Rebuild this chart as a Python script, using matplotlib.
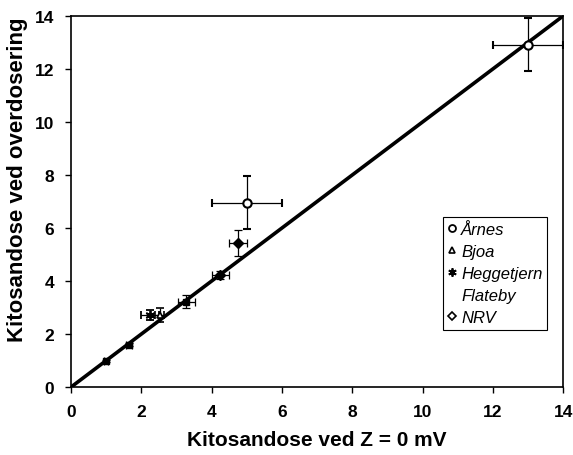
import matplotlib.pyplot as plt
from matplotlib.lines import Line2D

plt.rcParams['font.family'] = ['Liberation Sans', 'DejaVu Sans']

# Årnes
arnes_x = [5.0, 13.0]
arnes_y = [6.95, 12.92]
arnes_xerr = [1.0, 1.0]
arnes_yerr = [1.0, 1.0]

# Bjoa
bjoa_x = [2.52]
bjoa_y = [2.72]
bjoa_xerr = [0.12]
bjoa_yerr = [0.25]

# Heggetjern
hegg_x = [2.25]
hegg_y = [2.72]
hegg_xerr = [0.25]
hegg_yerr = [0.2]

# Flateby
flat_x = [1.0, 1.65, 3.28]
flat_y = [0.98, 1.6, 3.22]
flat_xerr = [0.05, 0.08, 0.24]
flat_yerr = [0.05, 0.05, 0.25]

# NRV
nrv_x = [4.24, 4.75]
nrv_y = [4.23, 5.45]
nrv_xerr = [0.24, 0.26]
nrv_yerr = [0.15, 0.49]

line_x = [0, 14]
line_y = [0, 14]

fig = plt.figure(figsize=(5.73, 4.56), dpi=100)
ax = fig.add_axes([0.124, 0.149, 0.859, 0.814])

ax.plot(line_x, line_y, color='black', lw=2.6, zorder=2)

eb = dict(ecolor='black', elinewidth=0.9, capsize=3, capthick=0.9, ls='none', zorder=3)
ax.errorbar(arnes_x, arnes_y, xerr=arnes_xerr, yerr=arnes_yerr, marker='o', ms=6,
            mfc='white', mec='black', mew=1.5, **eb)
ax.errorbar(bjoa_x, bjoa_y, xerr=bjoa_xerr, yerr=bjoa_yerr, marker='^', ms=5,
            mfc='white', mec='black', mew=1.2, **eb)
ax.errorbar(hegg_x, hegg_y, xerr=hegg_xerr, yerr=hegg_yerr, marker=(6, 2, 0), ms=7,
            mfc='black', mec='black', mew=1.3, **eb)
ax.errorbar(flat_x, flat_y, xerr=flat_xerr, yerr=flat_yerr, marker='s', ms=5,
            mfc='black', mec='black', **eb)
ax.errorbar(nrv_x, nrv_y, xerr=nrv_xerr, yerr=nrv_yerr, marker='D', ms=5,
            mfc='black', mec='black', **eb)

ax.set_xlim(0, 14)
ax.set_ylim(0, 14)
ax.set_xticks(range(0, 15, 2))
ax.set_yticks(range(0, 15, 2))
ax.tick_params(direction='out', length=4, width=1, labelsize=12.5, pad=8)
for lab in ax.get_xticklabels() + ax.get_yticklabels():
    lab.set_fontweight('bold')
for s in ax.spines.values():
    s.set_linewidth(1.2)

ax.set_xlabel('Kitosandose ved Z = 0 mV', fontsize=15, fontweight='bold', labelpad=8)
ax.set_ylabel('Kitosandose ved overdosering', fontsize=16, fontweight='bold')
ax.yaxis.set_label_coords(-0.088, 0.56)

handles = [
    Line2D([], [], ls='none', marker='o', ms=5, mfc='white', mec='black', mew=1.3),
    Line2D([], [], ls='none', marker='^', ms=5, mfc='white', mec='black', mew=1.2),
    Line2D([], [], ls='none', marker=(6, 2, 0), ms=6, mec='black', mew=1.3),
    Line2D([], [], ls='none', marker='none'),
    Line2D([], [], ls='none', marker='D', ms=4, mfc='white', mec='black', mew=1.2),
]
labels = ['Årnes', 'Bjoa', 'Heggetjern', 'Flateby', 'NRV']
leg = ax.legend(handles, labels, loc='upper left', bbox_to_anchor=(0.755, 0.458),
                fancybox=False, edgecolor='black', framealpha=1,
                prop={'style': 'italic', 'size': 12}, handlelength=0.5,
                handletextpad=0.3, borderpad=0.3, labelspacing=0.42,
                borderaxespad=0)
leg.get_frame().set_linewidth(0.8)

fig.savefig('out.png', dpi=100)
